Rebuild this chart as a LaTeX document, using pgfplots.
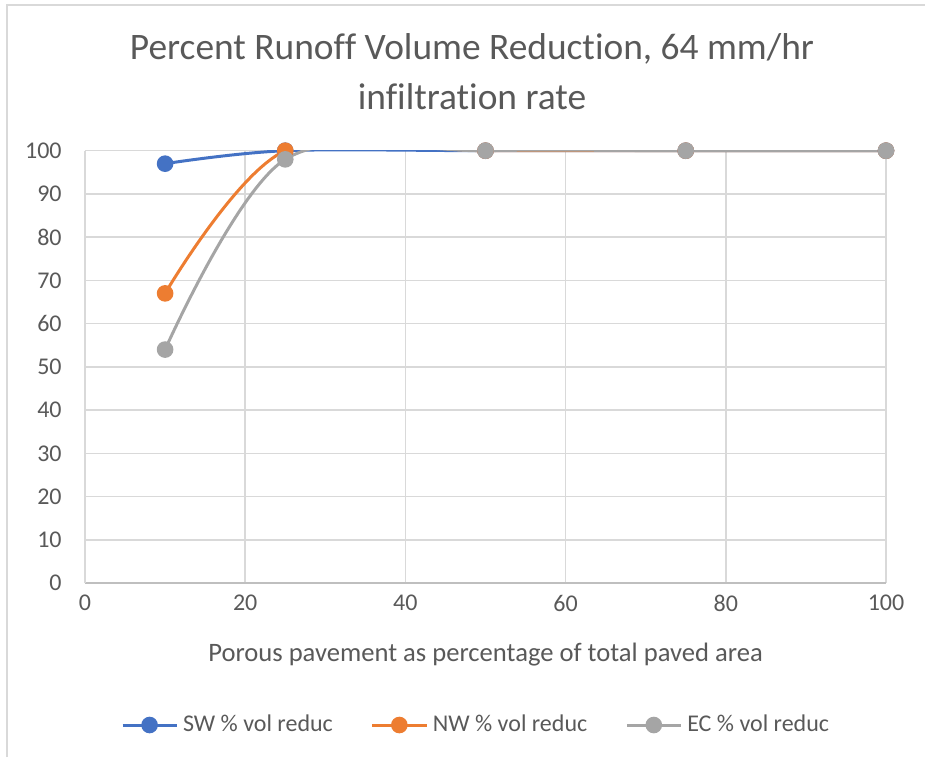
\documentclass[border=0pt]{standalone}
\usepackage{pgfplots}
\pgfplotsset{compat=1.18}
\usepackage{fontspec}
\setmainfont{Carlito}[Ligatures={NoCommon}]

\definecolor{swblue}{HTML}{4472C4}
\definecolor{nworange}{HTML}{ED7D31}
\definecolor{ecgray}{HTML}{A5A5A5}
\definecolor{gridgray}{HTML}{D9D9D9}
\definecolor{axisgray}{HTML}{BFBFBF}
\definecolor{txtgray}{HTML}{595959}

\begin{document}
\begin{tikzpicture}
\useasboundingbox (0,0) rectangle (462.5pt,378.5pt);
% chart area border (top and left edges)
\draw[gridgray, line width=1pt] (3.5pt,0pt) -- (3.5pt,375.75pt) -- (462.5pt,375.75pt);
% chart title
\node[txtgray, align=center, font=\fontsize{18.7}{25}\selectfont] at (236pt,342.5pt)
  {Percent Runoff Volume Reduction, 64 mm/hr\\infiltration rate};
\begin{axis}[
  at={(42.5pt,87pt)}, anchor=south west,
  scale only axis, width=400.5pt, height=216.15pt,
  xmin=0, xmax=100, ymin=0, ymax=100,
  xtick={0,20,...,100}, ytick={0,10,...,100},
  axis lines*=left,
  x axis line style={axisgray, line width=0.75pt},
  y axis line style={gridgray, line width=0.75pt},
  grid=major, major grid style={gridgray, line width=0.75pt},
  major tick length=0pt,
  /pgf/number format/assume math mode=true,
  tick label style={font=\fontsize{12}{14}\selectfont, text=txtgray},
  xticklabel style={anchor=north, inner sep=0pt, yshift=-6pt},
  yticklabel style={anchor=east, inner sep=0pt, xshift=-11.5pt},
  xlabel={Porous pavement as percentage of total paved area},
  xlabel style={at={(axis description cs:0.5,0)}, anchor=center, yshift=-36pt,
    font=\fontsize{13.3}{16}\selectfont, text=txtgray},
  legend columns=3,
  legend style={at={(0.487,-0.3285)}, anchor=center, draw=none, fill=none,
    font=\fontsize{12}{14}\selectfont, text=txtgray,
    nodes={inner sep=0pt},
    /tikz/every odd column/.append style={column sep=2.5pt},
    /tikz/every even column/.append style={column sep=19pt}},
  legend image code/.code={%
    \draw[mark repeat=2, mark phase=2, #1] plot coordinates {(0pt,0pt) (13.5pt,0pt) (27pt,0pt)};},
  every axis plot/.append style={line width=1.5pt, smooth, tension=0.55,
    mark=*, mark size=3.4pt, mark options={line width=0.4pt}},
]
\addplot[swblue, mark options={fill=swblue, draw=swblue}]
  coordinates {(10,97) (25,100) (50,100) (75,100) (100,100)};
\addlegendentry{SW \% vol reduc}
\addplot[nworange, mark options={fill=nworange, draw=nworange}]
  coordinates {(10,67) (25,100) (50,100) (75,100) (100,100)};
\addlegendentry{NW \% vol reduc}
\addplot[ecgray, mark options={fill=ecgray, draw=ecgray}]
  coordinates {(10,54) (25,98) (50,100) (75,100) (100,100)};
\addlegendentry{EC \% vol reduc}
\end{axis}
\end{tikzpicture}
\end{document}
